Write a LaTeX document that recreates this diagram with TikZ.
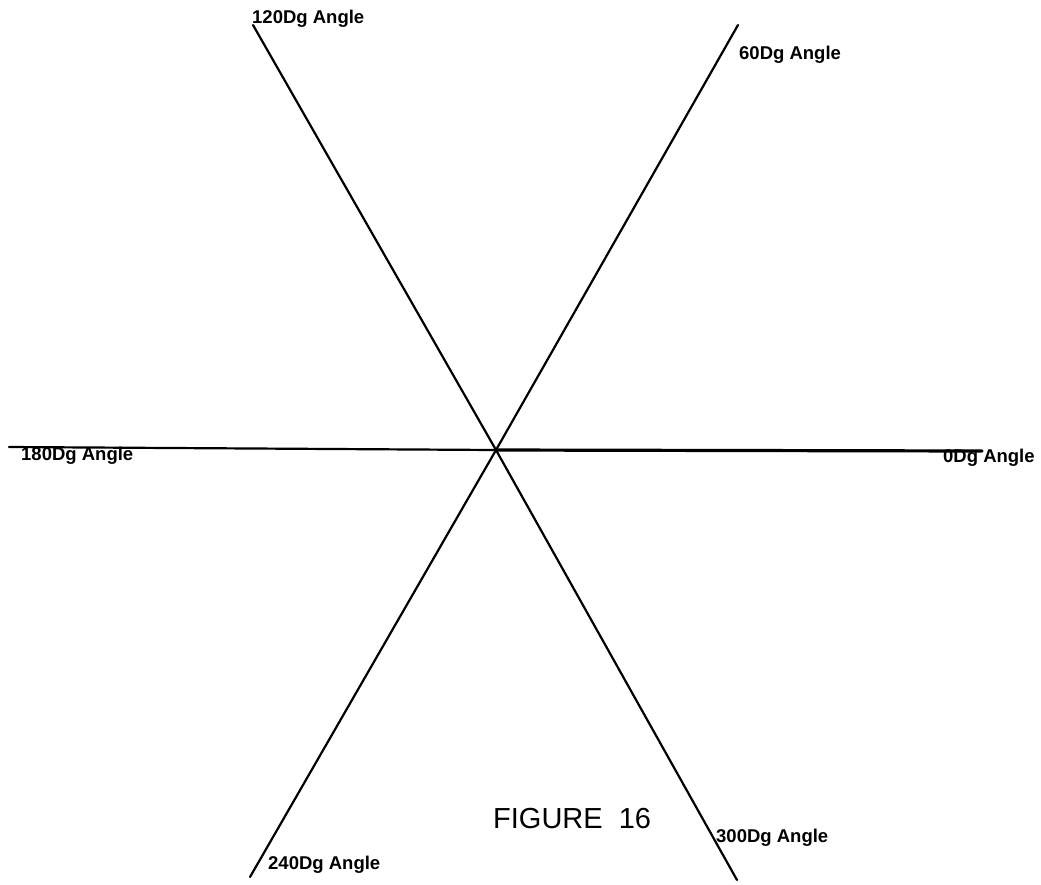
\documentclass[tikz,border=0pt]{standalone}
\usepackage{fontspec}
\setmainfont{Liberation Sans}
\begin{document}
\begin{tikzpicture}[x=1pt,y=-1pt,
  ray/.style={line width=2.2pt,line cap=round},
  thickray/.style={line width=3.2pt,line cap=round},
  lbl/.style={inner sep=0pt,anchor=base west,font=\fontsize{18.5}{18.5}\selectfont\bfseries},
  figcaption/.style={inner sep=0pt,anchor=base west,font=\fontsize{29}{29}\selectfont}]
\useasboundingbox (0,0) rectangle (1041,884);
\fill[white] (0,0) rectangle (1041,884);
\coordinate (O) at (496,450);
\coordinate (e0) at (982,451);
\coordinate (e60) at (738,25);
\coordinate (e120) at (253,25);
\coordinate (e180) at (9,447);
\coordinate (e240) at (250,877);
\coordinate (e300) at (737,880);
\draw[thickray] (O) -- (e0);
\draw[ray] (O) -- (e180);
\draw[ray] (e60) -- (O) -- (e240);
\draw[ray] (e120) -- (O) -- (e300);
\node[lbl] (t0) at (943,462) {0Dg Angle};
\node[lbl] (t60) at (739,59) {60Dg Angle};
\node[lbl] (t120) at (252,23) {120Dg Angle};
\node[lbl] (t180) at (21,460) {180Dg Angle};
\node[lbl] (t240) at (268,869) {240Dg Angle};
\node[lbl] (t300) at (716,842) {300Dg Angle};
\node[figcaption] (fig) at (493,828) {FIGURE\ \ 16};
\end{tikzpicture}
\end{document}
